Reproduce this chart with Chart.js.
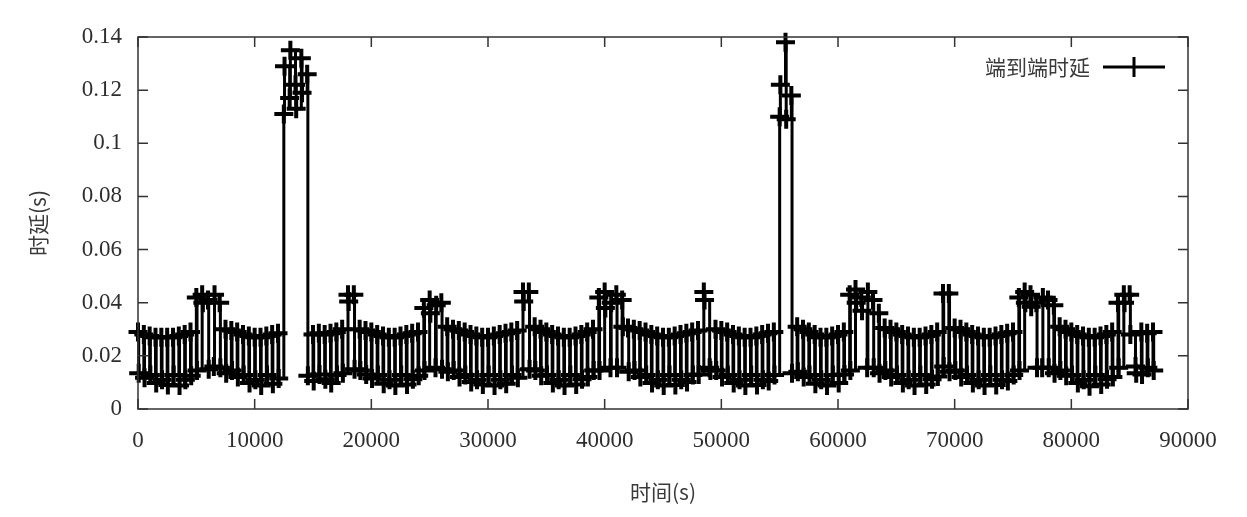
<!DOCTYPE html>
<html>
<head>
<meta charset="utf-8">
<script src="https://cdn.jsdelivr.net/npm/chart.js@4.4.0/dist/chart.umd.min.js"></script>
<style>
  html, body { margin: 0; padding: 0; background: #fff; }
  #wrap { width: 1247px; height: 517px; }
</style>
</head>
<body>
<div id="wrap"><canvas id="delayChart"></canvas></div>
<script>
// one sample pair (high, low) per cycle
const cycleSeconds = 500;
const pairGap = 60;

const xTicks = [0, 10000, 20000, 30000, 40000, 50000, 60000, 70000, 80000, 90000];
const yTicks = [0, 0.02, 0.04, 0.06, 0.08, 0.1, 0.12, 0.14];

const arcA = [0.029,0.0135, 0.028,0.0118, 0.0275,0.0128, 0.027,0.0098, 0.027,0.011, 0.027,0.009, 0.027,0.0128, 0.0275,0.0088, 0.028,0.011, 0.029,0.0125];
const bump1 = [0.042,0.0145, 0.043,0.040, 0.041,0.015, 0.016,0.043, 0.040,0.0155, 0.030,0.0135];
const arcB = [0.0295,0.0145, 0.029,0.012, 0.028,0.0128, 0.0275,0.0098, 0.027,0.011, 0.027,0.0088, 0.0275,0.0128, 0.028,0.0095, 0.0285,0.0115];
const spike1 = [0.111,0.129, 0.117,0.135, 0.122,0.113, 0.132,0.119, 0.126,0.0125];
const arcC = [0.028,0.0105, 0.0285,0.013, 0.028,0.0112, 0.0285,0.0098, 0.029,0.0128, 0.030,0.0135];
const bump2 = [0.043,0.0405, 0.043,0.015, 0.030,0.0145];
const arcD = [0.0295,0.013, 0.029,0.0115, 0.028,0.0128, 0.0275,0.0095, 0.027,0.011, 0.027,0.0088, 0.0275,0.0128, 0.028,0.0092, 0.0285,0.0112, 0.029,0.0125];
const bump3 = [0.038,0.0145, 0.041,0.036, 0.0155,0.039, 0.040,0.015, 0.031,0.014];
const arcE = [0.030,0.0145, 0.0295,0.012, 0.029,0.0128, 0.028,0.0102, 0.0275,0.011, 0.027,0.0092, 0.027,0.0128, 0.0275,0.0088, 0.028,0.011, 0.0285,0.0095, 0.029,0.0128, 0.0295,0.0118];
const bump4 = [0.044,0.0405, 0.044,0.015, 0.031,0.0145];
const arcF = [0.030,0.0125, 0.029,0.0128, 0.028,0.0098, 0.0275,0.011, 0.027,0.0088, 0.027,0.0128, 0.0275,0.0092, 0.028,0.0112, 0.029,0.012];
const bump5 = [0.030,0.0145, 0.042,0.0145, 0.044,0.038, 0.0155,0.040, 0.043,0.0155, 0.041,0.031, 0.0305,0.014];
const arcG = [0.030,0.0145, 0.0295,0.012, 0.029,0.0128, 0.028,0.0098, 0.0275,0.011, 0.027,0.0088, 0.027,0.0128, 0.0275,0.009, 0.028,0.011, 0.0285,0.0102, 0.029,0.0128, 0.0295,0.013];
const bump6 = [0.044,0.041, 0.0155,0.0145];
const arcH = [0.030,0.0145, 0.0295,0.012, 0.029,0.0128, 0.028,0.0098, 0.0275,0.011, 0.027,0.0088, 0.027,0.0128, 0.0275,0.009, 0.028,0.011, 0.0285,0.0105, 0.029,0.0128];
const spike2 = [0.110,0.122, 0.138,0.109, 0.118,0.0135];
const arcI = [0.031,0.014, 0.030,0.012, 0.029,0.0128, 0.028,0.0095, 0.027,0.011, 0.027,0.0088, 0.0275,0.0128, 0.028,0.0098];
const bump7 = [0.029,0.013, 0.043,0.0145, 0.045,0.040, 0.042,0.037, 0.0155,0.044, 0.041,0.0155, 0.036,0.0135];
const arcJ = [0.0305,0.0145, 0.030,0.012, 0.029,0.0128, 0.028,0.0098, 0.0275,0.011, 0.027,0.0088, 0.027,0.0128, 0.0275,0.0092, 0.028,0.0112, 0.029,0.0122];
const bump8 = [0.0435,0.016, 0.0435,0.014];
const arcK = [0.0305,0.0145, 0.030,0.012, 0.029,0.0128, 0.028,0.0098, 0.0275,0.011, 0.027,0.0088, 0.027,0.0128, 0.0275,0.009, 0.028,0.011, 0.0285,0.0105, 0.029,0.0128];
const bump9 = [0.042,0.0145, 0.044,0.040, 0.043,0.0385, 0.040,0.0155, 0.0155,0.042, 0.041,0.0155, 0.039,0.0135, 0.031,0.0145];
const arcL = [0.030,0.0125, 0.029,0.0128, 0.028,0.0098, 0.0275,0.011, 0.027,0.0086, 0.027,0.0128, 0.0275,0.0092, 0.028,0.0112, 0.029,0.012];
const bump10 = [0.040,0.0155, 0.043,0.040, 0.043,0.028, 0.016,0.0135, 0.029,0.013, 0.0285,0.0155, 0.029,0.0145];

const delay = [].concat(arcA, bump1, arcB, spike1, arcC, bump2, arcD, bump3, arcE, bump4,
  arcF, bump5, arcG, bump6, arcH, spike2, arcI, bump7, arcJ, bump8, arcK, bump9, arcL, bump10);

const points = delay.map((v, i) => ({
  x: Math.floor(i / 2) * cycleSeconds + (i % 2) * pairGap,
  y: v
}));

const textColor = '#2e2e2e';
const tickFont = { family: '"Liberation Serif", serif', size: 23 };
const cjkFont = { family: '"Noto Sans CJK SC", sans-serif', size: 21 };

const frameTicks = {
  id: 'frameTicks',
  afterDraw: (chart) => {
    const { ctx, chartArea: { left, right, top, bottom }, scales: { x, y } } = chart;
    ctx.save();
    ctx.strokeStyle = '#333';
    ctx.lineWidth = 1.5;
    ctx.strokeRect(left, top, right - left, bottom - top);
    ctx.beginPath();
    yTicks.forEach(v => {
      const py = y.getPixelForValue(v);
      ctx.moveTo(left, py); ctx.lineTo(left + 10, py);
      ctx.moveTo(right, py); ctx.lineTo(right - 10, py);
    });
    xTicks.forEach(v => {
      const px = x.getPixelForValue(v);
      ctx.moveTo(px, bottom); ctx.lineTo(px, bottom - 10);
      ctx.moveTo(px, top); ctx.lineTo(px, top + 10);
    });
    ctx.stroke();

    // legend, gnuplot style: key text then a sample line with a cross
    const ly = 67;
    ctx.font = cjkFont.size + 'px ' + cjkFont.family;
    ctx.fillStyle = '#3a3a3a';
    ctx.textAlign = 'right';
    ctx.textBaseline = 'middle';
    ctx.fillText(chart.data.datasets[0].label, 1090, ly);
    ctx.strokeStyle = '#000';
    ctx.lineWidth = 3;
    ctx.beginPath();
    ctx.moveTo(1103, ly); ctx.lineTo(1165, ly);
    ctx.moveTo(1134, ly - 10); ctx.lineTo(1134, ly + 10);
    ctx.stroke();
    ctx.restore();
  }
};

new Chart(document.getElementById('delayChart'), {
  type: 'line',
  data: {
    datasets: [{
      label: '端到端时延',
      data: points,
      borderColor: '#000',
      borderWidth: 3,
      stepped: true,
      fill: false,
      pointStyle: 'cross',
      pointRadius: 9.5,
      pointBorderWidth: 4,
      pointBorderColor: '#000',
      clip: 12
    }]
  },
  plugins: [frameTicks],
  options: {
    responsive: true,
    maintainAspectRatio: false,
    animation: false,
    layout: { padding: { left: 0, right: 59, top: 37, bottom: 0 } },
    plugins: {
      legend: { display: false },
      tooltip: { enabled: false }
    },
    scales: {
      x: {
        type: 'linear',
        min: 0,
        max: 90000,
        afterFit: (scale) => { scale.height = 108; },
        afterBuildTicks: (scale) => { scale.ticks = xTicks.map(v => ({ value: v })); },
        grid: { display: false, drawTicks: false },
        border: { display: false },
        ticks: {
          color: textColor,
          font: tickFont,
          padding: 18,
          maxRotation: 0,
          callback: (v) => String(v)
        },
        title: {
          display: true,
          text: '时间(s)',
          color: '#3a3a3a',
          font: cjkFont,
          padding: { bottom: 12 }
        }
      },
      y: {
        min: 0,
        max: 0.14,
        afterFit: (scale) => { scale.width = 138; },
        afterBuildTicks: (scale) => { scale.ticks = yTicks.map(v => ({ value: v })); },
        grid: { display: false, drawTicks: false },
        border: { display: false },
        ticks: {
          color: textColor,
          font: tickFont,
          padding: 16,
          callback: (v) => String(Math.round(v * 100) / 100)
        },
        title: {
          display: true,
          text: '时延(s)',
          color: '#3a3a3a',
          font: cjkFont,
          padding: { top: 25 }
        }
      }
    }
  }
});
</script>
</body>
</html>
